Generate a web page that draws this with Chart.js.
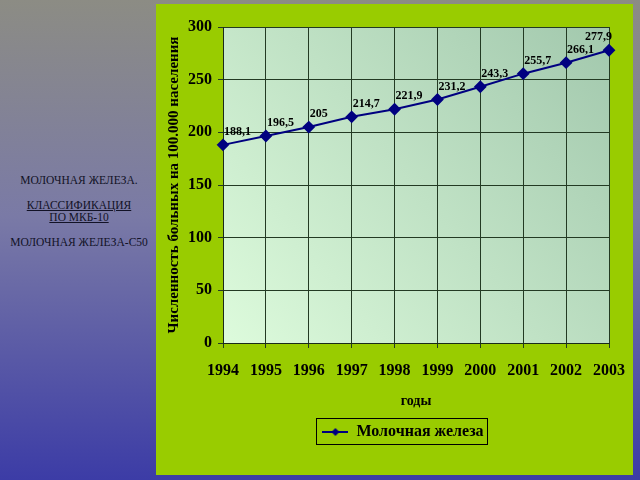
<!DOCTYPE html>
<html>
<head>
<meta charset="utf-8">
<script src="https://cdn.jsdelivr.net/npm/chart.js@4/dist/chart.umd.min.js"></script>
<style>
  html, body { margin: 0; padding: 0; }
  body {
    width: 640px; height: 480px; overflow: hidden; position: relative;
    background: linear-gradient(to bottom, #8c8c84 0%, #7a7aa6 45%, #3c3ca6 100%);
    font-family: "Liberation Serif", "DejaVu Serif", serif;
  }
  #panel { position: absolute; left: 156px; top: 4px; width: 477px; height: 471px; background: #99cc00; }
  #side { position: absolute; left: 0; top: 174px; width: 158px; text-align: center; font-size: 11.5px; color: #121226; line-height: 12px; }
  #side p { margin: 0 0 13px 0; }
  #side u { text-decoration: underline; }
  #wrap { position: absolute; left: 0; top: 0; width: 640px; height: 480px; }
</style>
</head>
<body>
<div id="panel"></div>
<div id="side">
  <p>МОЛОЧНАЯ ЖЕЛЕЗА.</p>
  <p><u>КЛАССИФИКАЦИЯ</u><br><u>ПО МКБ-10</u></p>
  <p>МОЛОЧНАЯ ЖЕЛЕЗА-С50</p>
</div>
<div id="wrap"><canvas id="myChart" width="640" height="480"></canvas></div>
<script>
var years = ['1994', '1995', '1996', '1997', '1998', '1999', '2000', '2001', '2002', '2003'];
var cases = [188.1, 196.5, 205, 214.7, 221.9, 231.2, 243.3, 255.7, 266.1, 277.9];
var seriesName = 'Молочная железа';
var yTitle = 'Численность больных на 100.000 населения';
var xTitle = 'годы';

var navy = '#000080';
var serif = '"Liberation Serif", "DejaVu Serif", serif';

// little legend sample: line with a diamond
function legendIcon() {
  var c = document.createElement('canvas');
  c.width = 26; c.height = 12;
  var g = c.getContext('2d');
  g.strokeStyle = navy; g.lineWidth = 2;
  g.beginPath(); g.moveTo(0, 6); g.lineTo(26, 6); g.stroke();
  g.fillStyle = navy;
  g.beginPath(); g.moveTo(13, 2); g.lineTo(17, 6); g.lineTo(13, 10); g.lineTo(9, 6); g.closePath(); g.fill();
  return c;
}

var plotBack = {
  id: 'plotBack',
  beforeDraw: function(chart) {
    var a = chart.chartArea, ctx = chart.ctx;
    var grad = ctx.createLinearGradient(a.left, a.bottom, a.right, a.top);
    grad.addColorStop(0, '#ddfbdc');
    grad.addColorStop(1, '#a2c8ad');
    ctx.save();
    ctx.fillStyle = grad;
    ctx.fillRect(a.left, a.top, a.right - a.left, a.bottom - a.top);
    ctx.restore();
  },
  afterLayout: function(chart) {
    // legend sits a bit right of centre in the original
    chart.legend.left += 16;
    chart.legend.right += 16;
  }
};

var pointLabels = {
  id: 'pointLabels',
  afterDatasetsDraw: function(chart) {
    var ctx = chart.ctx;
    var meta = chart.getDatasetMeta(0);
    var a = chart.chartArea;
    ctx.save();
    ctx.font = 'bold 12px ' + serif;
    ctx.fillStyle = '#000';
    ctx.textAlign = 'left';
    ctx.textBaseline = 'bottom';
    meta.data.forEach(function(pt, i) {
      var txt = String(cases[i]).replace('.', ',');
      var w = ctx.measureText(txt).width;
      var x = Math.min(pt.x + 1, a.right + 3 - w);
      ctx.fillText(txt, x, pt.y - 7);
    });
    ctx.restore();
  },
  afterDraw: function(chart) {
    var box = chart.legend.legendHitBoxes[0];
    if (!box) return;
    var ctx = chart.ctx;
    ctx.save();
    ctx.strokeStyle = '#000';
    ctx.lineWidth = 1;
    ctx.strokeRect(Math.round(box.left) - 5.5, Math.round(box.top) - 5.5, Math.round(box.width) + 10, Math.round(box.height) + 10);
    ctx.restore();
  }
};

var myChart = new Chart(document.getElementById('myChart'), {
  type: 'line',
  data: {
    labels: years,
    datasets: [{
      label: seriesName,
      data: cases,
      borderColor: navy,
      backgroundColor: navy,
      borderWidth: 2,
      tension: 0,
      pointStyle: 'rectRot',
      pointRadius: 5,
      pointBackgroundColor: navy,
      pointBorderColor: navy
    }]
  },
  options: {
    responsive: false,
    animation: false,
    events: [],
    layout: { padding: { left: 165, right: 31, top: 27, bottom: 30 } },
    plugins: {
      tooltip: { enabled: false },
      legend: {
        position: 'bottom',
        labels: {
          usePointStyle: true,
          pointStyle: legendIcon(),
          pointStyleWidth: 26,
          color: '#000',
          font: { family: serif, size: 16, weight: 'bold' },
          padding: 10
        }
      }
    },
    scales: {
      x: {
        offset: false,
        grid: { color: '#233a23', lineWidth: 1, tickLength: 5, offset: false },
        border: { color: '#1a2a1a', width: 1 },
        ticks: { color: '#000', font: { family: serif, size: 16, weight: 'bold' }, padding: 13, maxRotation: 0 },
        title: { display: true, text: xTitle, color: '#000', font: { family: serif, size: 14, weight: 'bold' }, padding: { top: 4, bottom: 4 } },
        afterFit: function(scale) { scale.height = 71; }
      },
      y: {
        min: 0,
        max: 300,
        grid: { color: '#233a23', lineWidth: 1, tickLength: 5 },
        border: { color: '#1a2a1a', width: 1 },
        ticks: { stepSize: 50, color: '#000', font: { family: serif, size: 16, weight: 'bold' }, padding: 6 },
        title: { display: true, text: yTitle, color: '#000', font: { family: serif, size: 15, weight: 'bold' }, padding: { top: 0, bottom: 4 } },
        afterFit: function(scale) { scale.width = 58; }
      }
    }
  },
  plugins: [plotBack, pointLabels]
});
</script>
</body>
</html>
